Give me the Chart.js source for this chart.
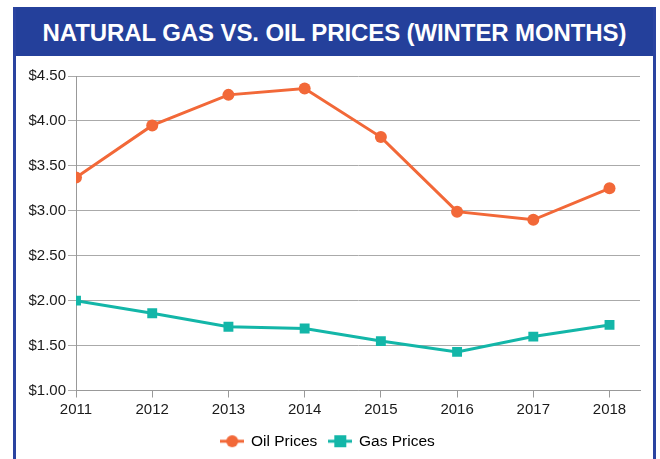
<!DOCTYPE html>
<html>
<head>
<meta charset="utf-8">
<script src="https://cdn.jsdelivr.net/npm/chart.js@4/dist/chart.umd.min.js"></script>
<style>
  body { margin: 0; background: #fff; width: 660px; height: 459px; overflow: hidden; position: relative; }
  #frame { position: absolute; left: 13px; top: 7px; width: 637px; height: 460px;
           border-left: 3px solid #2a43a0; border-right: 3px solid #2a43a0; }
  #header { height: 49px; background: #24409b; color: #fff; text-align: center;
            font-family: "Liberation Sans", Arial, sans-serif; font-weight: bold;
            font-size: 24px; line-height: 51px; letter-spacing: -0.1px; }
  #chart { position: absolute; left: 16px; top: 56px; }
</style>
</head>
<body>
<div id="frame"><div id="header">NATURAL GAS VS. OIL PRICES (WINTER MONTHS)</div></div>
<canvas id="chart" width="637" height="403"></canvas>
<script>
const years = [2011, 2012, 2013, 2014, 2015, 2016, 2017, 2018]
const oil_prices = [3.37, 3.95, 4.29, 4.36, 3.82, 2.99, 2.90, 3.25]
const gas_prices = [2.00, 1.86, 1.71, 1.69, 1.55, 1.43, 1.60, 1.73]
const oil_color = '#f26838'
const gas_color = '#13b6a8'

// little line+marker icon for the legend
function legend_icon(color, shape) {
    let c = document.createElement('canvas')
    c.width = 24
    c.height = 14
    let ctx = c.getContext('2d')
    ctx.strokeStyle = color
    ctx.lineWidth = 3
    ctx.beginPath()
    ctx.moveTo(0, 7)
    ctx.lineTo(24, 7)
    ctx.stroke()
    ctx.fillStyle = color
    if (shape === 'circle') {
        ctx.beginPath()
        ctx.arc(12, 7, 6, 0, Math.PI * 2)
        ctx.fill()
    } else {
        ctx.fillRect(6, 1, 12, 12)
    }
    return c
}

function to_points(values) {
    return years.map((y, i) => ({ x: y, y: values[i] }))
}

const font_family = '"Liberation Sans", Arial, sans-serif'

new Chart(document.getElementById('chart'), {
    type: 'line',
    data: {
        datasets: [
            {
                label: 'Oil Prices',
                data: to_points(oil_prices),
                borderColor: oil_color,
                backgroundColor: oil_color,
                borderWidth: 3,
                pointStyle: 'circle',
                pointRadius: 6,
                pointBorderWidth: 0,
                legendIcon: legend_icon(oil_color, 'circle')
            },
            {
                label: 'Gas Prices',
                data: to_points(gas_prices),
                borderColor: gas_color,
                backgroundColor: gas_color,
                borderWidth: 3,
                pointStyle: 'rect',
                pointRadius: 7,
                pointBorderWidth: 0,
                legendIcon: legend_icon(gas_color, 'rect')
            }
        ]
    },
    options: {
        responsive: false,
        animation: false,
        devicePixelRatio: 1,
        layout: { padding: { left: 0, right: 13, top: 20, bottom: 0 } },
        scales: {
            x: {
                type: 'linear',
                min: 2011,
                max: 2018.4,
                afterBuildTicks: (scale) => {
                    scale.ticks = years.map(v => ({ value: v }))
                },
                afterFit: (scale) => { scale.height = 31 },
                ticks: {
                    padding: 3,
                    autoSkip: false,
                    maxRotation: 0,
                    color: '#1a1a1a',
                    font: { family: font_family, size: 15 },
                    callback: (v) => String(v)
                },
                grid: { drawOnChartArea: false, color: '#999', tickLength: 7 },
                border: { color: '#999' }
            },
            y: {
                min: 1,
                max: 4.5,
                afterFit: (scale) => { scale.width = 60 },
                ticks: {
                    stepSize: 0.5,
                    padding: 2,
                    color: '#1a1a1a',
                    font: { family: font_family, size: 15 },
                    callback: (v) => '$' + v.toFixed(2)
                },
                grid: { color: '#aaa', tickLength: 8 },
                border: { color: '#999' }
            }
        },
        plugins: {
            tooltip: { enabled: false },
            legend: {
                position: 'bottom',
                labels: {
                    usePointStyle: true,
                    pointStyleWidth: 22,
                    padding: 12,
                    color: '#1a1a1a',
                    font: { family: font_family, size: 15.5 },
                    generateLabels: (chart) => chart.data.datasets.map((ds, i) => ({
                        text: ds.label,
                        pointStyle: ds.legendIcon,
                        fillStyle: ds.backgroundColor,
                        strokeStyle: ds.borderColor,
                        lineWidth: 0,
                        hidden: false,
                        datasetIndex: i
                    }))
                }
            }
        }
    }
})
</script>
</body>
</html>
